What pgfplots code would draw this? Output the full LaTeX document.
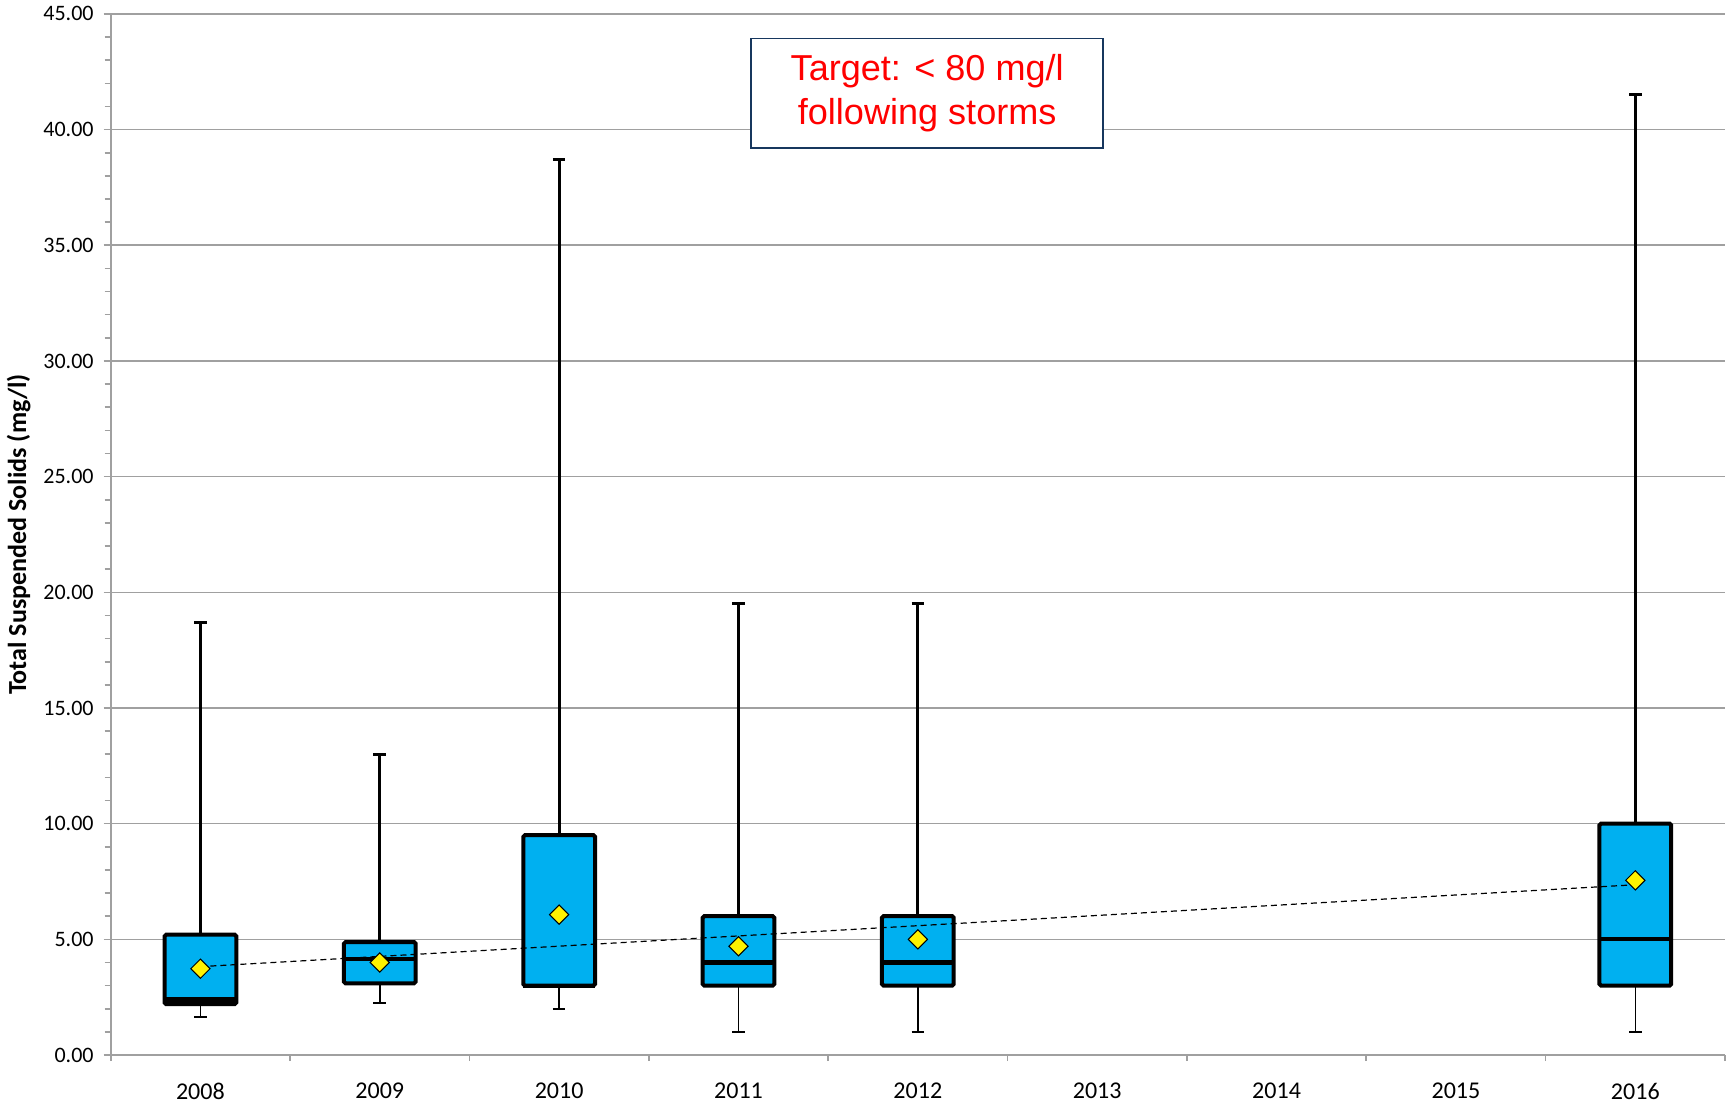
\documentclass[border=0pt]{standalone}
\usepackage{pgfplots}
\pgfplotsset{compat=1.18}
\usepgfplotslibrary{statistics}
\usepackage{fontspec}
\setmainfont{Carlito}
\newfontfamily\arial{Liberation Sans}
\definecolor{boxfill}{RGB}{0,176,240}
\definecolor{gridgray}{RGB}{160,160,160}
\definecolor{navy}{RGB}{23,55,94}

\pgfplotsset{
  tss box/.style={
    black,
    boxplot/draw direction=y,
    boxplot/box extend=0.4,
    boxplot/whisker extend=0.07,
    boxplot/every box/.style={draw=black, line width=2pt, fill=boxfill, rounded corners=0.8pt},
    boxplot/every median/.style={draw=black, line width=2.1pt},
    boxplot/every whisker/.style={draw=black, line width=1.5pt},
    boxplot/draw/lower whisker/.code={%
      \draw[black, line width=0.75pt]
        (boxplot cs:\pgfplotsboxplotvalue{lower quartile}) --
        (boxplot cs:\pgfplotsboxplotvalue{lower whisker})
        (boxplot whisker cs:\pgfplotsboxplotvalue{lower whisker},0) --
        (boxplot whisker cs:\pgfplotsboxplotvalue{lower whisker},1);
    },
  },
}

\begin{document}
\begin{tikzpicture}
\begin{axis}[
  width=805.5pt, height=519.5pt, scale only axis,
  xmin=-0.5, xmax=8.5, ymin=0, ymax=45,
  axis x line*=bottom, axis y line*=left,
  axis line style={draw=gridgray, line width=0.8pt},
  xtick={0,...,8},
  xticklabels={2008,2009,2010,2011,2012,2013,2014,2015,2016},
  minor xtick={-0.5,0.5,...,8.5},
  major x tick style={draw=none},
  minor x tick style={draw=gridgray, line width=0.8pt},
  ytick={0,5,...,45},
  minor y tick num=4,
  every y tick/.style={draw=gridgray, line width=0.8pt},
  tick align=outside,
  major tick length=3.5pt, minor tick length=3pt,
  ymajorgrids,
  major grid style={draw=gridgray, line width=0.8pt},
  /pgf/number format/assume math mode=true,
  yticklabel={\pgfmathprintnumber[fixed,fixed zerofill,precision=2]{\tick}},
  tick label style={font=\fontsize{11}{13}\selectfont},
  xticklabel style={font=\fontsize{12}{14}\selectfont, yshift=-7pt},
  yticklabel style={xshift=-1.5pt},
  ylabel={\bfseries Total Suspended Solids (mg/l)},
  ylabel style={font=\fontsize{13}{15}\selectfont, at={(axis description cs:-0.0571,0.5)}, anchor=center},
  clip=false,
]
\addplot[tss box, boxplot prepared={draw position=0, lower whisker=1.65, lower quartile=2.2, median=2.4, upper quartile=5.2, upper whisker=18.7}] coordinates {};
\addplot[tss box, boxplot prepared={draw position=1, lower whisker=2.25, lower quartile=3.1, median=4.15, upper quartile=4.88, upper whisker=13.0}] coordinates {};
\addplot[tss box, boxplot prepared={draw position=2, lower whisker=2.0, lower quartile=3.0, median=3.0, upper quartile=9.5, upper whisker=38.7}] coordinates {};
\addplot[tss box, boxplot prepared={draw position=3, lower whisker=1.0, lower quartile=3.0, median=4.0, upper quartile=6.0, upper whisker=19.5}] coordinates {};
\addplot[tss box, boxplot prepared={draw position=4, lower whisker=1.0, lower quartile=3.0, median=4.0, upper quartile=6.0, upper whisker=19.5}] coordinates {};
\addplot[tss box, boxplot prepared={draw position=8, lower whisker=1.0, lower quartile=3.0, median=5.0, upper quartile=10.0, upper whisker=41.5}] coordinates {};

% linear trend of the means
\addplot[black, densely dashed, line width=0.6pt] coordinates {(0,3.82) (8,7.36)};

% means
\addplot[only marks, mark=square*, mark size=3.4pt,
  mark options={rotate=45, fill=yellow, draw=black, line width=0.5pt}] coordinates {
  (0,3.73) (1,4.0) (2,6.07) (3,4.7) (4,5.0) (8,7.55)
};

\node[draw=navy, line width=0.9pt, fill=white, align=center,
  minimum width=175.5pt, minimum height=54.5pt, inner sep=0pt,
  text=red, font=\arial\fontsize{18}{22}\selectfont]
  at (axis cs:4.052,41.58) {Target: < 80 mg/l\\following storms};
\end{axis}
\path (current axis.east) ++(3.5pt,0) coordinate (rpad);
\end{tikzpicture}
\end{document}
